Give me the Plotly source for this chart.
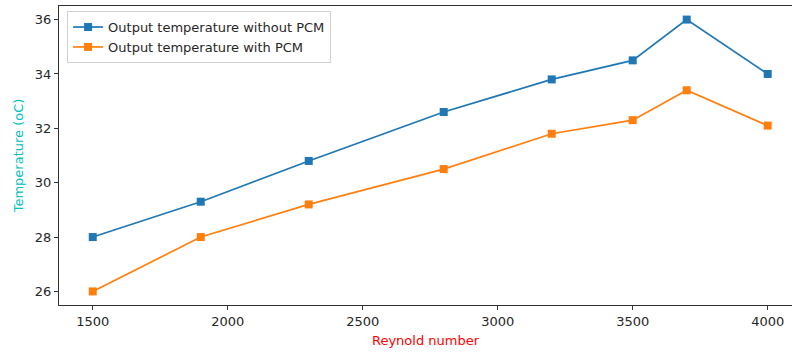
import plotly.graph_objects as go

reynolds = [1500, 1900, 2300, 2800, 3200, 3500, 3700, 4000]
temp_without_pcm = [28.0, 29.3, 30.8, 32.6, 33.8, 34.5, 36.0, 34.0]
temp_with_pcm = [26.0, 28.0, 29.2, 30.5, 31.8, 32.3, 33.4, 32.1]
x_ticks = [1500, 2000, 2500, 3000, 3500, 4000]
y_ticks = [26, 28, 30, 32, 34, 36]

font = "DejaVu Sans"
fs = 13
fig = go.Figure()
fig.add_trace(go.Scatter(x=reynolds, y=temp_without_pcm, mode="lines+markers",
                         name="Output temperature without PCM",
                         line=dict(color="#1f77b4", width=1.7),
                         marker=dict(symbol="square", size=8, color="#1f77b4")))
fig.add_trace(go.Scatter(x=reynolds, y=temp_with_pcm, mode="lines+markers",
                         name="Output temperature with PCM",
                         line=dict(color="#ff7f0e", width=1.7),
                         marker=dict(symbol="square", size=8, color="#ff7f0e")))

fig.update_layout(
    width=792, height=352,
    margin=dict(l=59, r=0, t=6, b=47),
    plot_bgcolor="white", paper_bgcolor="white",
    font=dict(family=font, size=fs, color="#262626"),
    showlegend=True,
    legend=dict(x=0.011, y=0.983, xanchor="left", yanchor="top",
                bgcolor="rgba(255,255,255,0.8)", bordercolor="#d0d0d0", borderwidth=1,
                font=dict(family=font, size=fs, color="#262626"),
                tracegroupgap=0, itemwidth=30),
    xaxis=dict(range=[1375, 4090], tickvals=x_ticks, showgrid=False, zeroline=False,
               showline=True, linecolor="#333333", linewidth=1, mirror=True,
               ticks="outside", ticklen=4, tickcolor="#333333",
               tickfont=dict(family=font, size=fs, color="#262626"),
               title=dict(text="Reynold number", font=dict(color="red", size=fs, family=font), standoff=8)),
    yaxis=dict(range=[25.5, 36.5], tickvals=y_ticks, showgrid=False, zeroline=False,
               showline=True, linecolor="#333333", linewidth=1,
               ticks="outside", ticklen=4, tickcolor="#333333",
               tickfont=dict(family=font, size=fs, color="#262626"),
               title=dict(text="Temperature (oC)", font=dict(color="#00bfbf", size=fs, family=font), standoff=8)),
)
fig.write_html("out.html")
